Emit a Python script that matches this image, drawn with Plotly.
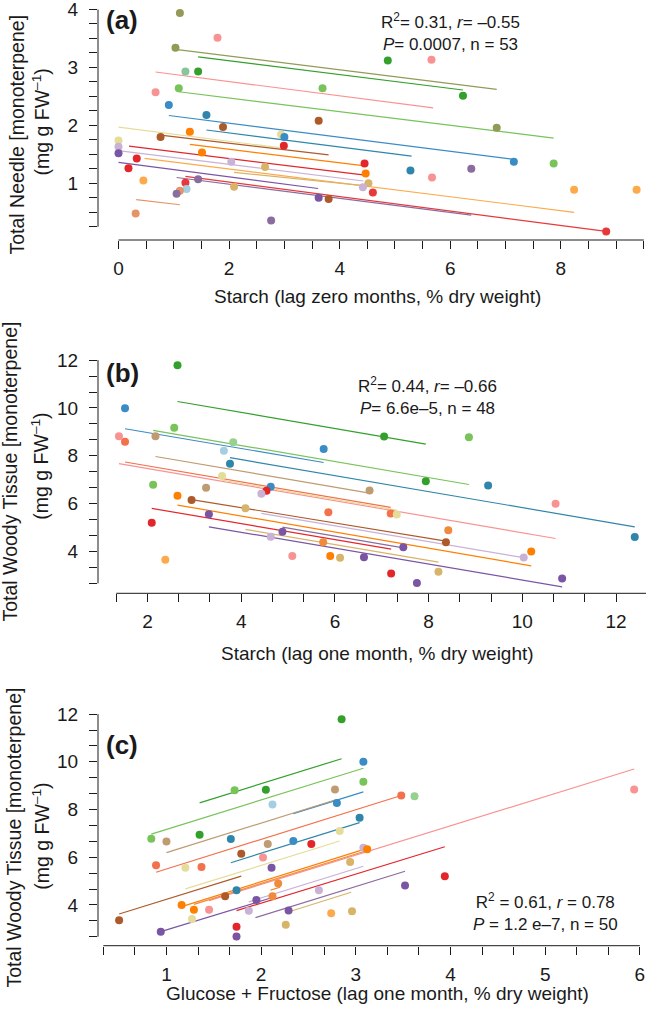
import plotly.graph_objects as go

# ---------------- data ----------------
# Panel (a): Total needle monoterpene vs starch (lag 0)
A_X = [1.11, 1.79, 1.03, 4.87, 5.66, 1.21, 1.44, 0.67, 1.09, 3.69,
       6.23, 0.91, 1.59, 3.62, 1.89, 6.84, 0.76, 1.29, 2.94, 3.00,
       0.00, 2.99, 0.00, 0.00, 1.51, 0.33, 0.18, 2.04, 2.65, 4.45,
       4.47, 5.28, 6.38, 7.15, 7.87, 5.67, 0.45, 1.21, 1.44, 2.09,
       4.52, 4.42, 4.60, 1.23, 1.11, 1.05, 3.62, 3.80, 8.24, 9.37,
       0.31, 2.76, 8.82]
A_Y = [3.94, 3.51, 3.34, 3.12, 3.13, 2.93, 2.93, 2.57, 2.64, 2.64,
       2.51, 2.35, 2.18, 2.08, 1.97, 1.96, 1.80, 1.89, 1.84, 1.80,
       1.74, 1.65, 1.63, 1.52, 1.53, 1.43, 1.26, 1.37, 1.28, 1.34,
       1.17, 1.22, 1.25, 1.37, 1.34, 1.10, 1.05, 1.01, 1.07, 0.94,
       1.00, 0.93, 0.84, 0.90, 0.87, 0.82, 0.75, 0.73, 0.89, 0.89,
       0.48, 0.36, 0.17]
A_TREE = ['olive', 'pink', 'olive', 'green', 'pink', 'seagreen', 'green', 'pink', 'lightgreen', 'lightgreen',
          'green', 'blue', 'teal', 'brown', 'brown', 'olive', 'brown', 'orange', 'khaki', 'blue',
          'khaki', 'red', 'lavender', 'purple', 'orange', 'red', 'red', 'lavender', 'gold', 'red',
          'orange', 'teal', 'mauve', 'blue', 'lightgreen', 'pink', 'lightorange', 'red2', 'mauve', 'gold',
          'gold', 'lavender', 'red2', 'lightblue', 'salmon', 'mauve', 'purple', 'brown', 'lightorange', 'lightorange',
          'salmon', 'mauve', 'red2']
A_LX0 = [1.03, 1.44, 0.67, 1.09, 0.91, 1.59, 0.00, 0.76, 1.29, 0.19, 0.03, 0.47, 0.00, 2.09, 1.21, 1.05, 0.32]
A_LX1 = [6.84, 6.23, 5.69, 7.87, 7.18, 5.30, 2.94, 3.80, 4.46, 4.46, 4.43, 8.24, 3.61, 4.52, 8.82, 6.38, 1.11]
A_LY0 = [3.31, 3.18, 2.92, 2.58, 2.17, 1.92, 1.97, 1.83, 1.67, 1.64, 1.56, 1.43, 1.36, 1.19, 1.12, 1.10, 0.72]
A_LY1 = [2.62, 2.61, 2.30, 1.78, 1.41, 1.47, 1.61, 1.49, 1.30, 1.14, 1.04, 0.50, 0.91, 0.95, 0.17, 0.45, 0.63]
A_LTREE = ['olive', 'green', 'pink', 'lightgreen', 'blue', 'teal', 'khaki', 'brown', 'orange', 'red',
           'lavender', 'lightorange', 'purple', 'gold', 'red2', 'mauve', 'salmon']

# Panel (b): Total woody tissue monoterpene vs starch (lag 1)
B_X = [2.64, 1.52, 1.39, 1.52, 2.17, 2.57, 3.83, 3.63, 5.76, 7.05,
       8.86, 3.76, 3.59, 2.12, 3.25, 4.63, 4.54, 4.43, 6.74, 7.94,
       9.27, 2.64, 2.94, 4.09, 5.86, 7.19, 7.32, 10.71, 12.40, 2.09,
       3.31, 4.88, 4.63, 8.42, 8.37, 5.75, 7.46, 10.19, 10.03, 2.38,
       5.09, 5.90, 6.11, 6.62, 7.20, 8.21, 7.75, 10.85]
B_Y = [11.79, 9.99, 8.82, 8.59, 8.82, 9.17, 8.57, 8.21, 8.28, 8.81,
       8.78, 7.67, 7.15, 6.79, 6.66, 6.70, 6.54, 6.41, 6.55, 6.94,
       6.76, 6.33, 6.15, 5.81, 5.64, 5.59, 5.55, 5.99, 4.60, 5.20,
       5.56, 4.82, 4.61, 4.89, 4.38, 4.38, 4.18, 4.00, 3.75, 3.65,
       3.81, 3.81, 3.74, 3.76, 3.08, 3.15, 2.68, 2.87]
B_TREE = ['green', 'blue', 'pink', 'tomato', 'tan', 'lightgreen', 'palegreen', 'lightblue', 'blue', 'green',
          'lightgreen', 'teal', 'khaki', 'lightgreen', 'tan', 'blue', 'red', 'lavender', 'tan', 'green',
          'teal', 'orange', 'brown', 'gold', 'tomato', 'tomato', 'khaki', 'pink', 'teal', 'red',
          'purple', 'purple', 'lavender', 'orange2', 'brown', 'orange2', 'purple', 'orange', 'lavender', 'lightorange',
          'pink', 'orange', 'gold', 'purple', 'red', 'gold', 'purple', 'purple']
B_LX0 = [2.64, 1.52, 2.12, 2.17, 3.76, 1.39, 1.52, 3.59, 2.94, 2.64, 4.43, 2.09, 3.31, 4.09, 4.88]
B_LX1 = [7.94, 5.76, 8.86, 6.74, 12.40, 10.71, 7.19, 7.32, 8.37, 10.19, 10.03, 7.20, 10.85, 8.21, 7.46]
B_LY0 = [10.27, 9.13, 9.06, 7.97, 7.92, 7.67, 7.74, 6.98, 6.17, 5.94, 5.59, 5.80, 5.03, 4.92, 5.02]
B_LY1 = [8.49, 7.72, 6.80, 6.44, 5.03, 4.54, 5.84, 5.73, 4.43, 3.40, 3.74, 4.10, 2.52, 3.55, 4.15]
B_LTREE = ['green', 'blue', 'lightgreen', 'tan', 'teal', 'pink', 'tomato', 'khaki', 'brown', 'orange',
           'lavender', 'red', 'purple', 'gold', 'mauve']

# Panel (c): Total woody tissue monoterpene vs glucose + fructose (lag 1)
C_X = [2.85, 3.08, 3.08, 1.72, 2.05, 2.78, 3.48, 3.62, 2.12, 2.80,
       5.94, 3.04, 2.83, 0.84, 1.00, 1.35, 1.68, 2.07, 2.34, 2.53,
       1.79, 2.02, 3.08, 3.12, 2.94, 0.89, 1.20, 1.37, 2.11, 3.94,
       3.52, 2.18, 2.61, 1.74, 1.62, 2.12, 1.95, 1.16, 1.29, 1.45,
       1.87, 2.29, 2.74, 2.96, 0.50, 1.27, 0.94, 1.74, 2.26, 1.74]
C_Y = [11.79, 10.00, 9.16, 8.81, 8.83, 8.84, 8.59, 8.56, 8.21, 8.27,
       8.84, 7.66, 7.10, 6.77, 6.66, 6.94, 6.76, 6.55, 6.68, 6.55,
       6.15, 5.99, 6.40, 6.33, 5.80, 5.66, 5.56, 5.59, 5.56, 5.20,
       4.81, 4.90, 4.62, 4.62, 4.36, 4.36, 4.21, 4.00, 3.80, 3.80,
       3.76, 3.77, 3.65, 3.73, 3.36, 3.41, 2.87, 3.08, 3.17, 2.68]
C_TREE = ['green', 'blue', 'lightgreen', 'lightgreen', 'green', 'tan', 'tomato', 'palegreen', 'lightblue', 'blue',
          'pink', 'teal', 'khaki', 'lightgreen', 'tan', 'green', 'teal', 'tan', 'blue', 'red',
          'brown', 'pink', 'lavender', 'orange', 'gold', 'tomato', 'khaki', 'tomato', 'purple', 'red',
          'purple', 'orange2', 'lavender', 'teal', 'brown', 'orange2', 'purple', 'orange', 'orange', 'pink',
          'lavender', 'purple', 'lightorange', 'gold', 'brown', 'khaki', 'purple', 'red', 'gold', 'purple']
C_LX0 = [1.35, 0.84, 2.34, 1.00, 0.89, 1.68, 1.20, 0.50, 1.45, 1.16, 1.29, 2.10, 1.87, 1.74, 0.94, 1.94, 2.27]
C_LX1 = [2.85, 3.08, 3.08, 2.78, 3.48, 3.04, 2.83, 1.79, 5.94, 3.12, 3.12, 2.20, 3.08, 3.94, 2.11, 3.52, 2.95]
C_LY0 = [8.28, 6.97, 7.83, 6.19, 5.37, 5.77, 4.67, 3.62, 4.18, 3.93, 4.02, 4.62, 4.13, 3.76, 2.88, 3.47, 3.68]
C_LY1 = [10.13, 9.73, 8.74, 8.40, 8.59, 7.45, 6.68, 5.21, 9.70, 6.37, 6.28, 4.74, 5.62, 6.44, 4.30, 5.41, 4.53]
C_LTREE = ['green', 'lightgreen', 'blue', 'tan', 'tomato', 'teal', 'khaki', 'brown', 'pink', 'orange',
           'orange2', 'orange2', 'lavender', 'red', 'purple', 'mauve', 'gold']

# ---------------- styles ----------------
COLORS = {
    'green': '#33a02c', 'lightgreen': '#78c35a', 'palegreen': '#98d08f', 'seagreen': '#88c59b',
    'olive': '#939a58', 'pink': '#f99393', 'tomato': '#f3714b', 'salmon': '#e59468',
    'blue': '#3a8cc4', 'teal': '#2f86aa', 'lightblue': '#a6cee3', 'red': '#e3262a', 'red2': '#e8383a',
    'orange': '#ff7f00', 'orange2': '#f08a3c', 'lightorange': '#fcaa4c', 'purple': '#7a55a3',
    'mauve': '#8b6c9e', 'lavender': '#c9b2d6', 'brown': '#ad5a2a', 'tan': '#bf9b72',
    'khaki': '#e6dc9a', 'gold': '#d8b46a',
}
FONT = 'Liberation Sans, Arial, Helvetica, sans-serif'
W, H = 646, 1013
INK = '#1a1a1a'


def fx(p):
    return p / W


def fy(p):
    return 1 - p / H


fig = go.Figure()

panels = [
    ('x', 'y', A_X, A_Y, A_TREE, A_LX0, A_LX1, A_LY0, A_LY1, A_LTREE),
    ('x2', 'y2', B_X, B_Y, B_TREE, B_LX0, B_LX1, B_LY0, B_LY1, B_LTREE),
    ('x3', 'y3', C_X, C_Y, C_TREE, C_LX0, C_LX1, C_LY0, C_LY1, C_LTREE),
]
for xa, ya, X, Y, T, LX0, LX1, LY0, LY1, LT in panels:
    for x0, x1, y0, y1, t in zip(LX0, LX1, LY0, LY1, LT):
        fig.add_trace(go.Scatter(x=[x0, x1], y=[y0, y1], mode='lines', xaxis=xa, yaxis=ya,
                                 line=dict(color=COLORS[t], width=1.2), showlegend=False,
                                 hoverinfo='skip'))
    fig.add_trace(go.Scatter(x=X, y=Y, mode='markers', xaxis=xa, yaxis=ya, cliponaxis=False,
                             marker=dict(size=8, color=[COLORS[t] for t in T], line=dict(width=0)),
                             showlegend=False))


def axis(rng, dom, dtick, mdtick, anchor, standoff):
    return dict(range=rng, domain=dom, anchor=anchor, showline=False, showgrid=False,
                zeroline=False, ticks='outside', ticklen=8, tickwidth=1, tickcolor=INK,
                dtick=dtick, tick0=0, ticklabeloverflow='allow', ticklabelstandoff=standoff,
                minor=dict(dtick=mdtick, tick0=0, ticks='outside', ticklen=8, tickwidth=1,
                           tickcolor=INK, showgrid=False),
                tickfont=dict(family=FONT, size=19, color=INK), automargin=False, fixedrange=True)


xdom = [fx(98), 1.0]
dom_a = [fy(240), fy(9.3)]
dom_b = [fy(593.3), fy(360)]
dom_c = [fy(945.7), fy(714)]

XS, YS = 3, 7
fig.update_layout(
    xaxis=axis([-0.371, 9.54], xdom, 2, 0.5, 'y', XS),
    yaxis=axis([0.022, 4.002], dom_a, 1, 0.25, 'x', YS),
    xaxis2=axis([0.943, 12.64], xdom, 2, 2 / 3, 'y2', XS),
    yaxis2=axis([2.25, 12.005], dom_b, 2, 2 / 3, 'x2', YS),
    xaxis3=axis([0.277, 6.065], xdom, 1, 1 / 3, 'y3', XS),
    yaxis3=axis([2.29, 12.005], dom_c, 2, 2 / 3, 'x3', YS),
)

# R-style detached axis lines spanning the tick range
AX_EXT = [('x', 'y', (0, 9.5), (0.25, 4)),
          ('x2', 'y2', (4 / 3, 12.64), (8 / 3, 12)),
          ('x3', 'y3', (1 / 3, 6), (8 / 3, 12))]
shapes = []
for xa, ya, (xl0, xl1), (yl0, yl1) in AX_EXT:
    shapes.append(dict(type='line', xref=xa, yref=ya + ' domain', x0=xl0, x1=xl1, y0=0, y1=0,
                       line=dict(color=INK, width=1)))
    shapes.append(dict(type='line', xref=xa + ' domain', yref=ya, x0=0, x1=0, y0=yl0, y1=yl1,
                       line=dict(color=INK, width=1)))

ann = []


def text(s, px, py, size, angle=0, **kw):
    ann.append(dict(text=s, x=fx(px), y=fy(py), xref='paper', yref='paper', showarrow=False,
                    xanchor='center', yanchor='middle', textangle=angle,
                    font=dict(family=FONT, size=size, color=INK), **kw))


# panel letters
text('<b>(a)</b>', 121.5, 20, 26)
text('<b>(b)</b>', 122.5, 372.5, 26)
text('<b>(c)</b>', 121.5, 745, 26)

# stats
text('R<sup>2</sup>= 0.31, <i>r</i>= –0.55<br><i>P</i>= 0.0007, n = 53', 450, 32, 17)
text('R<sup>2</sup>= 0.44, <i>r</i>= –0.66<br><i>P</i>= 6.6e–5, n = 48', 427.5, 396, 17)
text('R<sup>2</sup> = 0.61, <i>r</i> = 0.78<br><i>P</i> = 1.2 e–7, n = 50', 545, 912, 17)

# x titles
text('Starch (lag zero months, % dry weight)', 377, 297, 19)
text('Starch (lag one month, % dry weight)', 377, 653, 19)
text('Glucose + Fructose (lag one month, % dry weight)', 377, 993, 19)

# y titles
text('Total Needle [monoterpene]', 16.5, 135, 19.5, -90)
text('(mg g FW<sup>–1</sup>)', 41, 122.5, 19.5, -90)
text('Total Woody Tissue [monoterpene]', 10, 471.5, 19.5, -90)
text('(mg g FW<sup>–1</sup>)', 40, 466.7, 19.5, -90)
text('Total Woody Tissue [monoterpene]', 13, 837.5, 19.5, -90)
text('(mg g FW<sup>–1</sup>)', 41, 836.7, 19.5, -90)

fig.update_layout(width=W, height=H, autosize=False, margin=dict(l=0, r=0, t=0, b=0, pad=0),
                  template='none', plot_bgcolor='white', paper_bgcolor='white',
                  shapes=shapes, annotations=ann, showlegend=False, hovermode=False,
                  font=dict(family=FONT, color=INK))

fig.write_html('out.html', config={'displayModeBar': False, 'staticPlot': True},
               post_script="document.body.style.margin='0';document.body.style.overflow='hidden';")
